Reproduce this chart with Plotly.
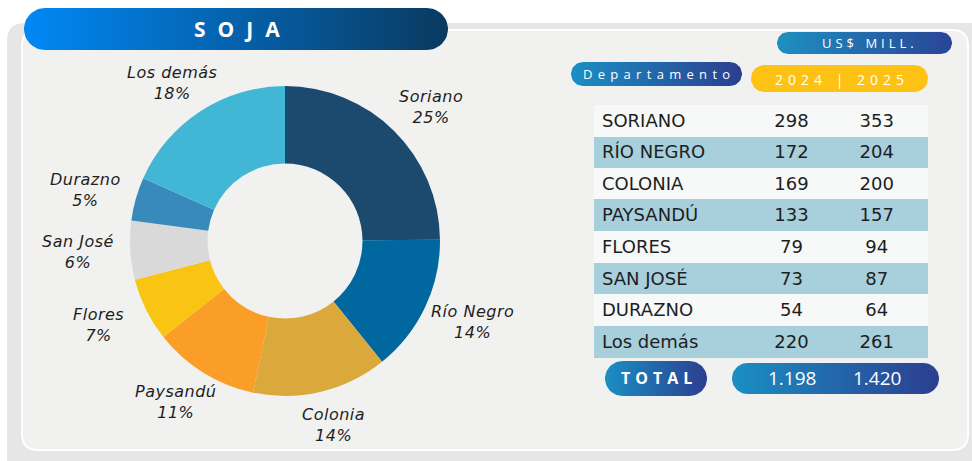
import numpy as np
import plotly.graph_objects as go

# datos
departamentos = ["Soriano", "Río Negro", "Colonia", "Paysandú", "Flores", "San José", "Durazno", "Los demás"]
tabla_nombres = ["SORIANO", "RÍO NEGRO", "COLONIA", "PAYSANDÚ", "FLORES", "SAN JOSÉ", "DURAZNO", "Los demás"]
valores_2024 = [298, 172, 169, 133, 79, 73, 54, 220]
valores_2025 = [353, 204, 200, 157, 94, 87, 64, 261]
total_2024 = "1.198"
total_2025 = "1.420"
colores = ["#1c4a6e", "#00689f", "#dba83b", "#fb9e27", "#f9c412", "#d9d9d9", "#3889bc", "#42b7d5"]

W, H = 972, 461
FONT = "DejaVu Sans"
FONT2 = "Open Sans"


def pill_xy(x0, x1, y0, y1, n=24):
    r = (y1 - y0) / 2
    cy = (y0 + y1) / 2
    t1 = np.linspace(-np.pi / 2, np.pi / 2, n)
    t2 = np.linspace(np.pi / 2, 3 * np.pi / 2, n)
    xs = np.concatenate([x1 - r + r * np.cos(t1), x0 + r + r * np.cos(t2)])
    ys = np.concatenate([cy + r * np.sin(t1), cy + r * np.sin(t2)])
    return list(xs) + [xs[0]], list(ys) + [ys[0]]


def rounded_path(x0, x1, y0, y1, r):
    return (f"M{x0 + r},{y0} L{x1 - r},{y0} Q{x1},{y0} {x1},{y0 + r} "
            f"L{x1},{y1 - r} Q{x1},{y1} {x1 - r},{y1} L{x0 + r},{y1} "
            f"Q{x0},{y1} {x0},{y1 - r} L{x0},{y0 + r} Q{x0},{y0} {x0 + r},{y0} Z")


def pill_trace(x0, x1, y0, y1, c0, c1):
    xs, ys = pill_xy(x0, x1, y0, y1)
    return go.Scatter(
        x=xs, y=ys, mode="lines", fill="toself", line=dict(width=0),
        fillgradient=dict(type="horizontal", colorscale=[[0, c0], [1, c1]]),
        hoverinfo="skip", showlegend=False,
    )


def spaced(t, px):
    return f'<span style="letter-spacing:{px}px">{t}</span>'


fig = go.Figure()

# pastillas con degradado
fig.add_trace(pill_trace(24, 448, 8, 50, "#0088f5", "#0a3a60"))
fig.add_trace(pill_trace(777, 952, 32, 54, "#1e90c0", "#2a4496"))
fig.add_trace(pill_trace(571, 742, 62, 86, "#1a8fc3", "#2c3e90"))
fig.add_trace(pill_trace(751, 928, 65, 92, "#fdc214", "#fdc214"))
fig.add_trace(pill_trace(605, 707, 361, 396, "#1a8fc3", "#2c3e90"))
fig.add_trace(pill_trace(732, 939, 363, 394, "#1a8fc3", "#2c3e90"))

# dona
cx, cy, R = 285, 241, 155
fig.add_trace(go.Pie(
    labels=departamentos,
    values=valores_2025,
    sort=False,
    direction="clockwise",
    rotation=0,
    hole=0.5,
    marker=dict(colors=colores, line=dict(width=0)),
    textinfo="none",
    hoverinfo="label+percent",
    domain=dict(x=[(cx - R) / W, (cx + R) / W], y=[(H - cy - R) / H, (H - cy + R) / H]),
    showlegend=False,
))

# etiquetas de la dona, sobre el ángulo medio de cada porción
total = sum(valores_2025)
acum = np.cumsum([0] + valores_2025[:-1])
annotations = []
for nombre, v, a0 in zip(departamentos, valores_2025, acum):
    ang = 2 * np.pi * (a0 + v / 2) / total
    annotations.append(dict(
        x=cx + 1.34 * R * np.sin(ang), y=cy - 1.22 * R * np.cos(ang), xref="x", yref="y",
        text=spaced(f"{nombre}<br>{round(100 * v / total)}%", 0.5),
        showarrow=False, xanchor="center", yanchor="middle",
        font=dict(family=FONT, size=16, color="#1e1e1e", style="italic"),
    ))

# tabla (la primera fila va como encabezado para que no quede hueco)
filas = ["#a8cfdc" if i % 2 == 0 else "#f7f8f8" for i in range(len(tabla_nombres) - 1)]
celda_font = dict(family=FONT, size=18, color="#1e1e1e")
fig.add_trace(go.Table(
    domain=dict(x=[594 / W, 928 / W], y=[1 - 370 / H, 1 - 105 / H]),
    columnwidth=[163, 70, 101],
    header=dict(
        values=[tabla_nombres[0], valores_2024[0], valores_2025[0]],
        height=31.6, line=dict(width=1, color="#f7f8f8"), fill=dict(color="#f7f8f8"),
        align=["left", "center", "center"], font=celda_font,
    ),
    cells=dict(
        values=[tabla_nombres[1:], valores_2024[1:], valores_2025[1:]],
        fill=dict(color=[filas]),
        align=["left", "center", "center"],
        font=celda_font,
        line=dict(width=1, color=[filas]),
        height=31.6,
    ),
))

anns = [
    dict(x=243, y=29, text=spaced("SOJA", 12), size=21, bold=True),
    dict(x=870, y=43, text=spaced("US$ MILL.", 4), size=13),
    dict(x=659, y=74, text=spaced("Departamento", 5.3), size=13),
    dict(x=842, y=79, text=spaced("2024 | 2025", 5), size=14),
    dict(x=659, y=378, text=spaced("TOTAL", 5), size=16, bold=True),
    dict(x=792, y=378, text=total_2024, size=19),
    dict(x=877, y=378, text=total_2025, size=19),
]
for a in anns:
    txt = f"<b>{a['text']}</b>" if a.get("bold") else a["text"]
    annotations.append(dict(
        x=a["x"], y=a["y"], xref="x", yref="y", text=txt, showarrow=False,
        font=dict(family=FONT2, size=a["size"], color="white"),
        xanchor="center", yanchor="middle",
    ))

fig.update_layout(
    width=W, height=H,
    margin=dict(l=0, r=0, t=0, b=0),
    paper_bgcolor="white",
    plot_bgcolor="rgba(0,0,0,0)",
    xaxis=dict(range=[0, W], visible=False, fixedrange=True, domain=[0, 1]),
    yaxis=dict(range=[H, 0], visible=False, fixedrange=True, domain=[0, 1]),
    shapes=[
        dict(type="path", xref="x", yref="y", path=rounded_path(7, 1000, 23, 500, 18),
             fillcolor="#e6e6e6", line=dict(width=0), layer="below"),
        dict(type="path", xref="x", yref="y", path=rounded_path(22, 968, 30, 450, 16),
             fillcolor="#f1f1f0", line=dict(color="white", width=2), layer="below"),
    ],
    annotations=annotations,
)

fig.write_html("out.html", config={"displayModeBar": False},
               post_script="document.body.style.margin='0';")
